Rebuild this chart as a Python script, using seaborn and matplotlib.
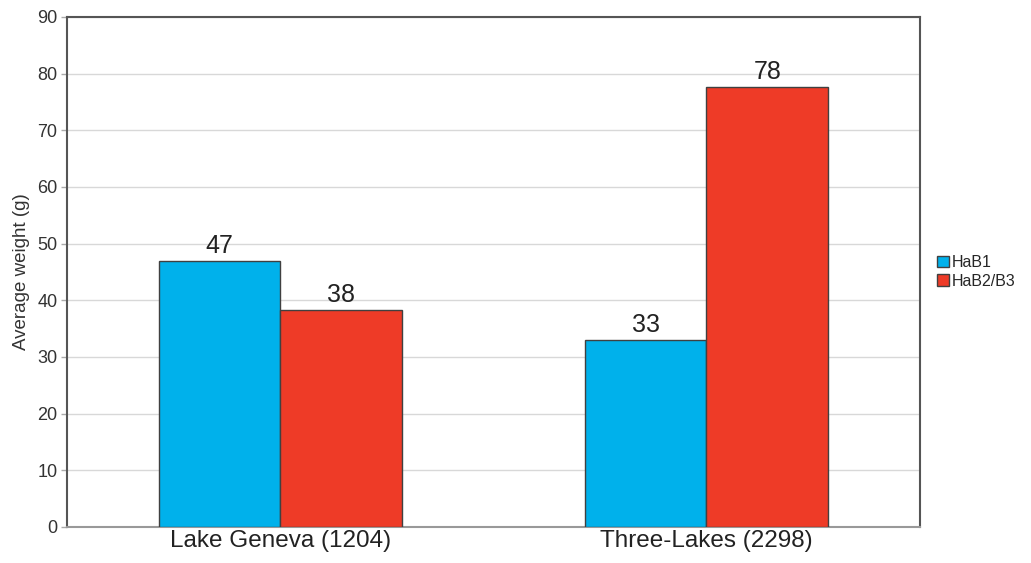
import matplotlib
matplotlib.use("Agg")
import matplotlib.pyplot as plt
import pandas as pd
import seaborn as sns

# values
sites = ["Lake Geneva (1204)", "Three-Lakes (2298)"]
groups = ["HaB1", "HaB2/B3"]
hab1_weight = [47.0, 33.0]
hab2_weight = [38.3, 77.7]
bar_labels = [["47", "33"], ["38", "78"]]
y_ticks = [0, 10, 20, 30, 40, 50, 60, 70, 80, 90]

df = pd.DataFrame(
    {
        "site": sites * 2,
        "group": [groups[0]] * 2 + [groups[1]] * 2,
        "weight": hab1_weight + hab2_weight,
    }
)

sns.set_style("white")
plt.rcParams["font.family"] = ["Liberation Sans", "DejaVu Sans"]

fig = plt.figure(figsize=(10.31, 5.63), dpi=100)
ax = fig.add_axes([0.065, 0.064, 0.827, 0.906])

sns.barplot(
    data=df,
    x="site",
    y="weight",
    hue="group",
    order=sites,
    hue_order=groups,
    palette=["#00B1EB", "#EE3B27"],
    saturation=1,
    width=0.57,
    edgecolor="#404040",
    linewidth=1.0,
    ax=ax,
    zorder=3,
)

for container, labels in zip(ax.containers, bar_labels):
    ax.bar_label(container, labels=labels, padding=2, fontsize=18, color="#222222")

ax.set_xlim(-0.5, 1.5)
ax.set_ylim(0, 90)
ax.set_yticks(y_ticks)
ax.yaxis.grid(True, color="#d8d8d8", linewidth=1.0, zorder=0)
ax.set_axisbelow(True)

ax.tick_params(axis="y", labelsize=13, labelcolor="#333333", length=4, width=1,
               direction="out", left=True, pad=3, color="#aaaaaa")
ax.tick_params(axis="x", labelsize=17.5, labelcolor="#222222", length=0, pad=2)
ax.set_xlabel("")
ax.set_ylabel("Average weight (g)", fontsize=13.5, color="#333333", labelpad=5)

for side in ["left", "top", "right"]:
    ax.spines[side].set_color("#555555")
    ax.spines[side].set_linewidth(1.5)
ax.spines["bottom"].set_color("#999999")
ax.spines["bottom"].set_linewidth(1.5)

ax.legend(
    loc="center left",
    bbox_to_anchor=(1.004, 0.5),
    frameon=False,
    fontsize=11.5,
    handlelength=0.7,
    handleheight=0.7,
    handletextpad=0.2,
    labelspacing=0.2,
)

plt.savefig("out.png", dpi=100)
plt.close()
